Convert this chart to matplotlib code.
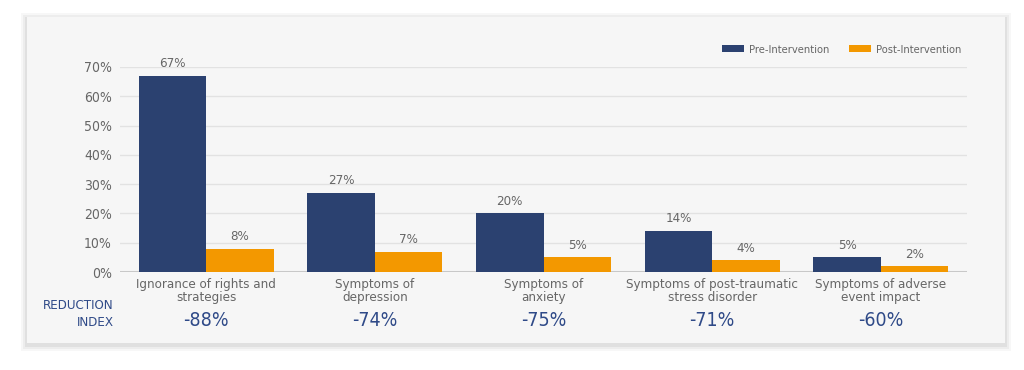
import matplotlib.pyplot as plt
from matplotlib.patches import FancyBboxPatch, Rectangle
import numpy as np

plt.rcParams["font.family"] = ["DejaVu Sans"]
plt.rcParams["font.stretch"] = "condensed"

categories = [
    "Ignorance of rights and\nstrategies",
    "Symptoms of\ndepression",
    "Symptoms of\nanxiety",
    "Symptoms of post-traumatic\nstress disorder",
    "Symptoms of adverse\nevent impact",
]
pre_values = [67, 27, 20, 14, 5]
post_values = [8, 7, 5, 4, 2]
reduction = ["-88%", "-74%", "-75%", "-71%", "-60%"]
y_ticks = [0, 10, 20, 30, 40, 50, 60, 70]

PRE_COLOR = "#2b4170"
POST_COLOR = "#f39800"
GRAY_TEXT = "#666666"
NAVY_TEXT = "#2f4a88"

fig = plt.figure(figsize=(10.24, 3.7), dpi=100)
fig.patch.set_facecolor("white")

# card background with soft shadow
W, H = 1024, 370
for i, a in enumerate([0.03, 0.04, 0.05]):
    d = 6 - i * 2
    fig.patches.append(FancyBboxPatch(
        ((27 - d) / W, (370 - 343 - d - 2) / H), (978 + 2 * d) / W, (326 + 2 * d) / H,
        boxstyle="square,pad=0", transform=fig.transFigure,
        facecolor="#000000", alpha=a, edgecolor="none", zorder=0))
fig.patches.append(Rectangle(
    (27 / W, (370 - 343) / H), 978 / W, 326 / H, transform=fig.transFigure,
    facecolor="#f6f6f6", edgecolor="none", zorder=1))

ax = fig.add_axes([120 / W, 1 - 272 / H, 847 / W, 205 / H])
ax.set_facecolor("none")
ax.set_zorder(2)

x = np.arange(len(categories))
w = 0.4
pre_bars = ax.bar(x - w / 2, pre_values, w, color=PRE_COLOR, label="Pre-Intervention", zorder=3)
post_bars = ax.bar(x + w / 2, post_values, w, color=POST_COLOR, label="Post-Intervention", zorder=3)

for bars in (pre_bars, post_bars):
    for b in bars:
        ax.annotate(f"{b.get_height():.0f}%", (b.get_x() + b.get_width() / 2, b.get_height()),
                    xytext=(0, 4), textcoords="offset points", ha="center", va="bottom",
                    fontsize=9.5, color=GRAY_TEXT)

ax.set_xlim(-0.51, 4.51)
ax.set_ylim(0, 70)
ax.set_yticks(y_ticks)
ax.set_yticklabels([f"{v}%" for v in y_ticks])
ax.yaxis.grid(True, color="#e2e2e2", lw=1)
ax.set_axisbelow(True)
for s in ax.spines.values():
    s.set_visible(False)
ax.axhline(0, color="#c8c8c8", lw=1.5, zorder=2)
ax.tick_params(axis="y", length=0, pad=6, labelsize=10, labelcolor=GRAY_TEXT)
ax.set_xticks(x)
ax.set_xticklabels(categories, fontsize=9.5, color=GRAY_TEXT, linespacing=1.05)
ax.tick_params(axis="x", length=0, pad=4)

# reduction index row
for xi, r in zip(x, reduction):
    ax.annotate(r, (xi, 0), xycoords=("data", "axes fraction"), xytext=(0, -35),
                textcoords="offset points", ha="center", va="center",
                fontsize=14, color=NAVY_TEXT)
fig.text(114 / W, 1 - 314 / H, "REDUCTION\nINDEX", ha="right", va="center",
         fontsize=9.5, color=NAVY_TEXT, linespacing=1.35)

leg = ax.legend(loc="center right", bbox_to_anchor=(0.999, 1.085), ncol=2, frameon=False,
                fontsize=8, handlelength=2.0, handleheight=0.6, columnspacing=1.7,
                handletextpad=0.5, borderaxespad=0)
for t in leg.get_texts():
    t.set_color(GRAY_TEXT)

fig.savefig("out.png", dpi=100)
